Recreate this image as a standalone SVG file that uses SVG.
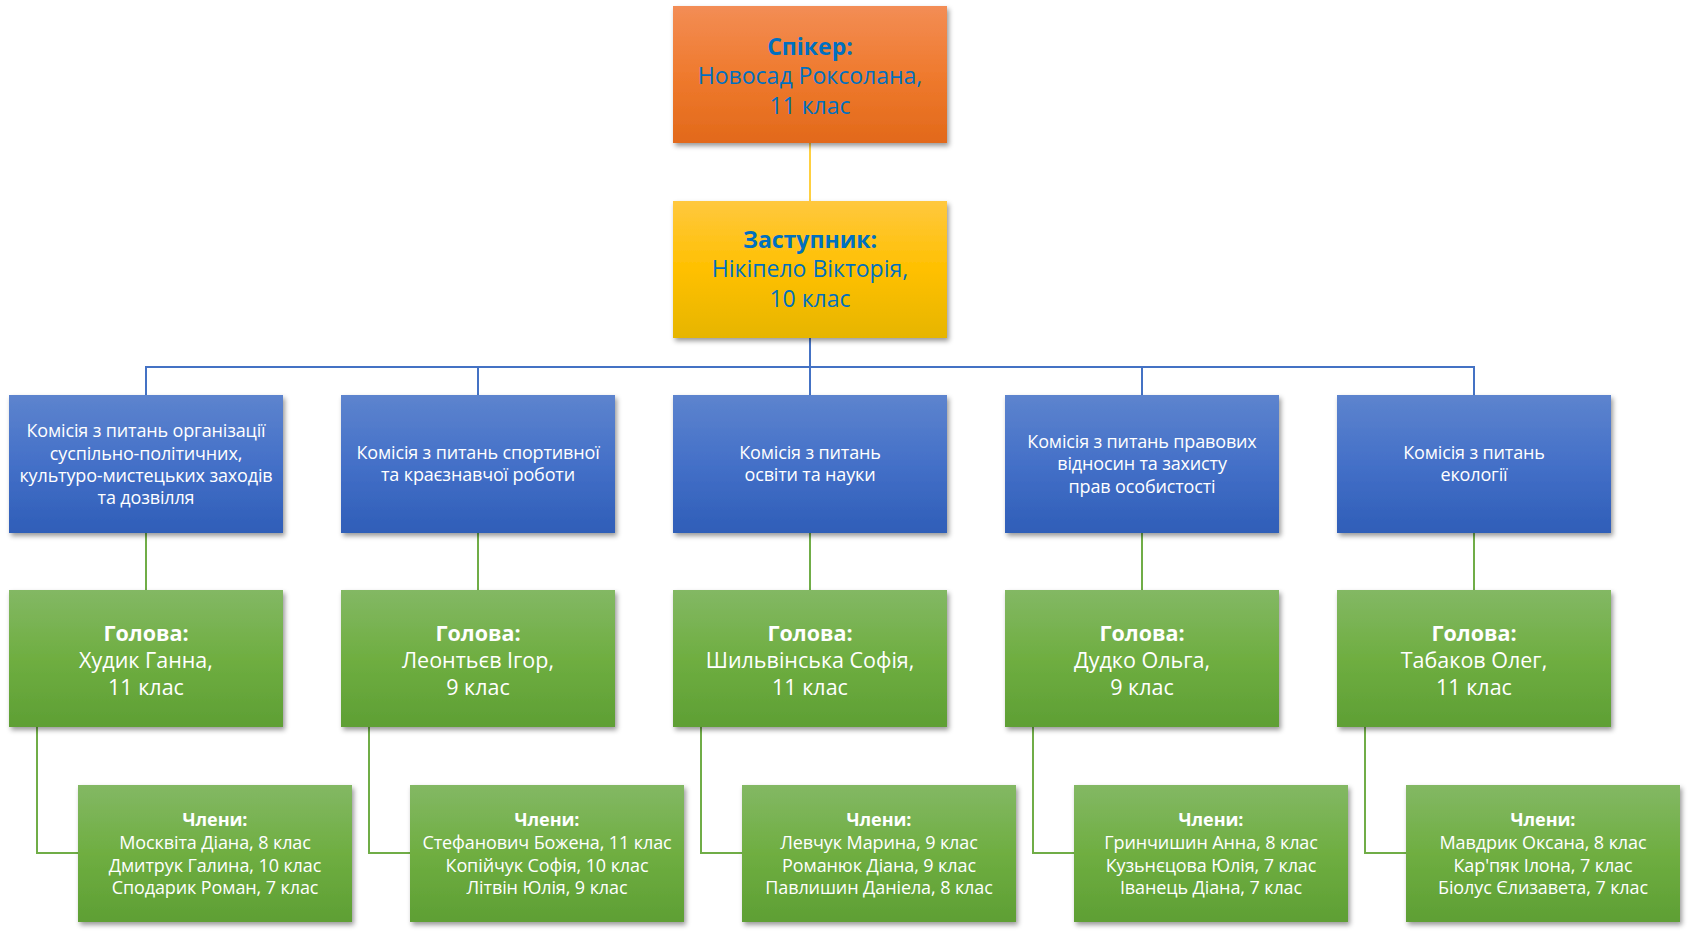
<svg xmlns="http://www.w3.org/2000/svg" width="1690" height="934" viewBox="0 0 1690 934">
<defs>
<linearGradient id="gOr" x1="0" y1="0" x2="0" y2="1"><stop offset="0" stop-color="#F38D55"/><stop offset="0.5" stop-color="#EF7A2E"/><stop offset="1" stop-color="#E2691A"/></linearGradient>
<linearGradient id="gYe" x1="0" y1="0" x2="0" y2="1"><stop offset="0" stop-color="#FFC83F"/><stop offset="0.5" stop-color="#FFC000"/><stop offset="1" stop-color="#E6B500"/></linearGradient>
<linearGradient id="gBl" x1="0" y1="0" x2="0" y2="1"><stop offset="0" stop-color="#5D84CE"/><stop offset="0.5" stop-color="#4470C8"/><stop offset="1" stop-color="#2F5EB8"/></linearGradient>
<linearGradient id="gGr" x1="0" y1="0" x2="0" y2="1"><stop offset="0" stop-color="#83B864"/><stop offset="0.5" stop-color="#6FAE41"/><stop offset="1" stop-color="#5E9F34"/></linearGradient>
<filter id="sh" x="-10%" y="-10%" width="125%" height="130%"><feDropShadow dx="2" dy="3" stdDeviation="2.5" flood-color="#000" flood-opacity="0.4"/></filter>
</defs>
<style>
text{font-family:"Open Sans","Noto Sans","DejaVu Sans",sans-serif;text-anchor:middle}
.top{font-size:23px;fill:#0070C0}
.b{font-weight:bold}
.com{font-size:18px;fill:#FFFFFF;letter-spacing:-0.15px}
.head{font-size:21.5px;fill:#FFFFFF}
.mem{font-size:18px;fill:#FFFFFF;letter-spacing:-0.1px}
.cy{stroke:#FFC000;stroke-width:1.5;fill:none}
.cb{stroke:#4472C4;stroke-width:2;fill:none}
.cg{stroke:#70AD47;stroke-width:2;fill:none}
</style>
<g id="connectors">
<line class="cy" x1="810" y1="143" x2="810" y2="201"/>
<path class="cb" d="M810 338V395M146 395V367H1474V395M478 367V395M1142 367V395"/>
<path class="cg" d="M146 533V590M478 533V590M810 533V590M1142 533V590M1474 533V590"/>
<path class="cg" d="M37 727V853H78M369 727V853H410M701 727V853H742M1033 727V853H1074M1365 727V853H1406"/>
</g>
<g id="speaker"><rect x="673" y="6" width="274" height="137" fill="url(#gOr)" filter="url(#sh)"/>
<text class="top"><tspan class="b" x="810" y="55">Спікер:</tspan><tspan x="810" y="84">Новосад Роксолана,</tspan><tspan x="810" y="114">11 клас</tspan></text></g>
<g id="deputy"><rect x="673" y="201" width="274" height="137" fill="url(#gYe)" filter="url(#sh)"/>
<text class="top"><tspan class="b" x="810" y="248">Заступник:</tspan><tspan x="810" y="277">Нікіпело Вікторія,</tspan><tspan x="810" y="307">10 клас</tspan></text></g>
<g id="com1"><rect x="9" y="395" width="274" height="138" fill="url(#gBl)" filter="url(#sh)"/>
<text class="com"><tspan x="146" y="437">Комісія з питань організації</tspan><tspan x="146" y="460">суспільно-політичних,</tspan><tspan x="146" y="482">культуро-мистецьких заходів</tspan><tspan x="146" y="504">та дозвілля</tspan></text></g>
<g id="com2"><rect x="341" y="395" width="274" height="138" fill="url(#gBl)" filter="url(#sh)"/>
<text class="com"><tspan x="478" y="459">Комісія з питань спортивної</tspan><tspan x="478" y="481">та краєзнавчої роботи</tspan></text></g>
<g id="com3"><rect x="673" y="395" width="274" height="138" fill="url(#gBl)" filter="url(#sh)"/>
<text class="com"><tspan x="810" y="459">Комісія з питань</tspan><tspan x="810" y="481">освіти та науки</tspan></text></g>
<g id="com4"><rect x="1005" y="395" width="274" height="138" fill="url(#gBl)" filter="url(#sh)"/>
<text class="com"><tspan x="1142" y="448">Комісія з питань правових</tspan><tspan x="1142" y="470">відносин та захисту</tspan><tspan x="1142" y="493">прав особистості</tspan></text></g>
<g id="com5"><rect x="1337" y="395" width="274" height="138" fill="url(#gBl)" filter="url(#sh)"/>
<text class="com"><tspan x="1474" y="459">Комісія з питань</tspan><tspan x="1474" y="481">екології</tspan></text></g>
<g id="head1"><rect x="9" y="590" width="274" height="137" fill="url(#gGr)" filter="url(#sh)"/>
<text class="head"><tspan class="b" x="146" y="641">Голова:</tspan><tspan x="146" y="668">Худик Ганна,</tspan><tspan x="146" y="695">11 клас</tspan></text></g>
<g id="head2"><rect x="341" y="590" width="274" height="137" fill="url(#gGr)" filter="url(#sh)"/>
<text class="head"><tspan class="b" x="478" y="641">Голова:</tspan><tspan x="478" y="668">Леонтьєв Ігор,</tspan><tspan x="478" y="695">9 клас</tspan></text></g>
<g id="head3"><rect x="673" y="590" width="274" height="137" fill="url(#gGr)" filter="url(#sh)"/>
<text class="head"><tspan class="b" x="810" y="641">Голова:</tspan><tspan x="810" y="668">Шильвінська Софія,</tspan><tspan x="810" y="695">11 клас</tspan></text></g>
<g id="head4"><rect x="1005" y="590" width="274" height="137" fill="url(#gGr)" filter="url(#sh)"/>
<text class="head"><tspan class="b" x="1142" y="641">Голова:</tspan><tspan x="1142" y="668">Дудко Ольга,</tspan><tspan x="1142" y="695">9 клас</tspan></text></g>
<g id="head5"><rect x="1337" y="590" width="274" height="137" fill="url(#gGr)" filter="url(#sh)"/>
<text class="head"><tspan class="b" x="1474" y="641">Голова:</tspan><tspan x="1474" y="668">Табаков Олег,</tspan><tspan x="1474" y="695">11 клас</tspan></text></g>
<g id="mem1"><rect x="78" y="785" width="274" height="137" fill="url(#gGr)" filter="url(#sh)"/>
<text class="mem"><tspan class="b" x="215" y="826">Члени:</tspan><tspan x="215" y="849">Москвіта Діана, 8 клас</tspan><tspan x="215" y="872">Дмитрук Галина, 10 клас</tspan><tspan x="215" y="894">Сподарик Роман, 7 клас</tspan></text></g>
<g id="mem2"><rect x="410" y="785" width="274" height="137" fill="url(#gGr)" filter="url(#sh)"/>
<text class="mem"><tspan class="b" x="547" y="826">Члени:</tspan><tspan x="547" y="849">Стефанович Божена, 11 клас</tspan><tspan x="547" y="872">Копійчук Софія, 10 клас</tspan><tspan x="547" y="894">Літвін Юлія, 9 клас</tspan></text></g>
<g id="mem3"><rect x="742" y="785" width="274" height="137" fill="url(#gGr)" filter="url(#sh)"/>
<text class="mem"><tspan class="b" x="879" y="826">Члени:</tspan><tspan x="879" y="849">Левчук Марина, 9 клас</tspan><tspan x="879" y="872">Романюк Діана, 9 клас</tspan><tspan x="879" y="894">Павлишин Даніела, 8 клас</tspan></text></g>
<g id="mem4"><rect x="1074" y="785" width="274" height="137" fill="url(#gGr)" filter="url(#sh)"/>
<text class="mem"><tspan class="b" x="1211" y="826">Члени:</tspan><tspan x="1211" y="849">Гринчишин Анна, 8 клас</tspan><tspan x="1211" y="872">Кузьнєцова Юлія, 7 клас</tspan><tspan x="1211" y="894">Іванець Діана, 7 клас</tspan></text></g>
<g id="mem5"><rect x="1406" y="785" width="274" height="137" fill="url(#gGr)" filter="url(#sh)"/>
<text class="mem"><tspan class="b" x="1543" y="826">Члени:</tspan><tspan x="1543" y="849">Мавдрик Оксана, 8 клас</tspan><tspan x="1543" y="872">Кар'пяк Ілона, 7 клас</tspan><tspan x="1543" y="894">Біолус Єлизавета, 7 клас</tspan></text></g>
</svg>
